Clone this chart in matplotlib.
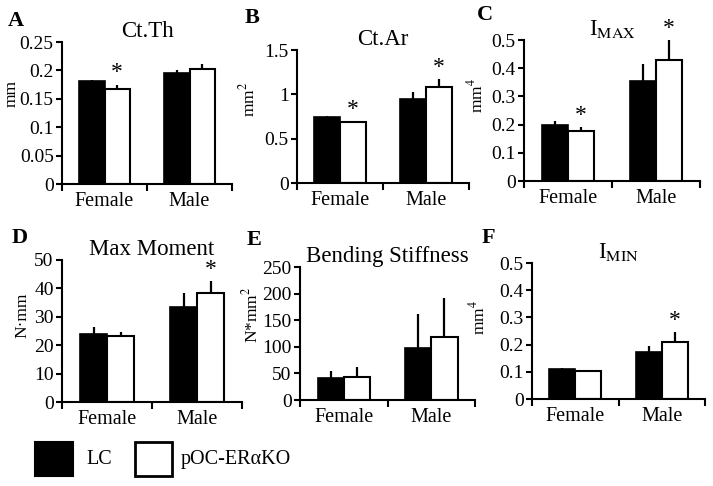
import matplotlib.pyplot as plt
import numpy as np

plt.rcParams['font.family'] = ['Liberation Serif', 'DejaVu Serif']
plt.rcParams['mathtext.fontset'] = 'stix'

# 数据
groups = ["Female", "Male"]
legend_names = ["LC", "pOC-ERαKO"]

titles = ["Ct.Th", "Ct.Ar", r"I$_{\mathrm{MAX}}$", "Max Moment", "Bending Stiffness", r"I$_{\mathrm{MIN}}$"]
ylabels = ["mm", r"mm$^2$", r"mm$^4$", "N·mm", r"N*mm$^2$", r"mm$^4$"]
letters = ["A", "B", "C", "D", "E", "F"]

lc_means = [[0.181, 0.195], [0.74, 0.95], [0.199, 0.356], [24.1, 33.5], [40.6, 98.0], [0.110, 0.172]]
lc_errs = [[0.002, 0.006], [0.01, 0.08], [0.015, 0.059], [2.4, 5.0], [14.4, 63.0], [0.003, 0.024]]
ko_means = [[0.167, 0.202], [0.684, 1.08], [0.177, 0.430], [23.3, 38.5], [43.8, 119.0], [0.104, 0.208]]
ko_errs = [[0.008, 0.009], [0.011, 0.09], [0.013, 0.07], [1.4, 4.1], [18.7, 72.0], [0.004, 0.037]]
# 显著性标记 (组索引)
stars = [[0], [0, 1], [0, 1], [1], [], [1]]

ylims = [0.25, 1.5, 0.5, 50, 250, 0.5]
yticks = [
    [0, 0.05, 0.1, 0.15, 0.2, 0.25],
    [0, 0.5, 1, 1.5],
    [0, 0.1, 0.2, 0.3, 0.4, 0.5],
    [0, 10, 20, 30, 40, 50],
    [0, 50, 100, 150, 200, 250],
    [0, 0.1, 0.2, 0.3, 0.4, 0.5],
]
yticklabels = [
    ["0", "0.05", "0.1", "0.15", "0.2", "0.25"],
    ["0", "0.5", "1", "1.5"],
    ["0", "0.1", "0.2", "0.3", "0.4", "0.5"],
    ["0", "10", "20", "30", "40", "50"],
    ["0", "50", "100", "150", "200", "250"],
    ["0", "0.1", "0.2", "0.3", "0.4", "0.5"],
]

# 坐标轴位置 (像素 -> 比例)
W, H = 713, 486
boxes = [(62, 232, 184, 42), (297, 469, 183, 50), (524, 700, 181, 40),
         (62, 242, 402, 260), (300, 475, 400, 267), (532, 705, 399, 263)]
letter_pos = [(8, 21), (245, 18), (477, 15), (12, 238), (247, 240), (482, 238)]
ylabel_xy = [(20, 93), (258, 99), (486, 95), (30, 315), (261, 315), (488, 317)]

fig = plt.figure(figsize=(W / 100, H / 100), dpi=100)

x = np.arange(len(groups))
w = 0.3
for i in range(6):
    l, r, b, t = boxes[i]
    ax = fig.add_axes([l / W, 1 - b / H, (r - l) / W, (b - t) / H])
    ekw = dict(ecolor="black", elinewidth=1.6, capsize=0)
    ax.bar(x - w / 2, lc_means[i], w, color="black", edgecolor="black", linewidth=1.2,
           yerr=[[0, 0], lc_errs[i]], error_kw=ekw)
    ax.bar(x + w / 2, ko_means[i], w, color="white", edgecolor="black", linewidth=1.5,
           yerr=[[0, 0], ko_errs[i]], error_kw=ekw)
    for g in stars[i]:
        top = ko_means[i][g] + ko_errs[i][g]
        ax.text(x[g] + w / 2, top + ylims[i] * 0.01, "*", ha="center", va="bottom", fontsize=17)
    ax.set_xlim(-0.5, 1.5)
    ax.set_ylim(0, ylims[i])
    ax.set_yticks(yticks[i])
    ax.set_yticklabels(yticklabels[i], fontsize=14)
    ax.set_xticks([-0.5, 0.5, 1.5])
    ax.set_xticklabels([])
    ax.set_xticks(x, minor=True)
    ax.set_xticklabels(groups, minor=True, fontsize=14.5)
    ax.tick_params(axis="x", which="minor", length=0, pad=6)
    ax.tick_params(axis="x", which="major", direction="out", length=5, width=1.5)
    ax.tick_params(axis="y", direction="out", length=4, width=1.5, pad=2)
    for s in ["top", "right"]:
        ax.spines[s].set_visible(False)
    for s in ["left", "bottom"]:
        ax.spines[s].set_linewidth(1.5)
    ax.set_ylabel(ylabels[i], fontsize=12.5)
    lx, ly = ylabel_xy[i]
    ax.yaxis.set_label_coords((lx - l) / (r - l), (b - ly) / (b - t))
    ax.set_title(titles[i], fontsize=16.5, pad=2)
    fig.text(letter_pos[i][0] / W, 1 - letter_pos[i][1] / H, letters[i], fontsize=16,
             fontweight="bold", va="center", ha="left")

# 图例
lax = fig.add_axes([0, 0, 1, 1])
lax.set_xlim(0, W)
lax.set_ylim(H, 0)
lax.axis("off")
lax.add_patch(plt.Rectangle((35, 442), 38, 34, facecolor="black", edgecolor="black", lw=1.5))
lax.text(86, 459, legend_names[0], fontsize=14.5, va="center", ha="left")
lax.add_patch(plt.Rectangle((135, 442), 37, 34, facecolor="white", edgecolor="black", lw=2))
lax.text(181, 459, legend_names[1], fontsize=14.5, va="center", ha="left")

plt.savefig("out.png", dpi=100)
